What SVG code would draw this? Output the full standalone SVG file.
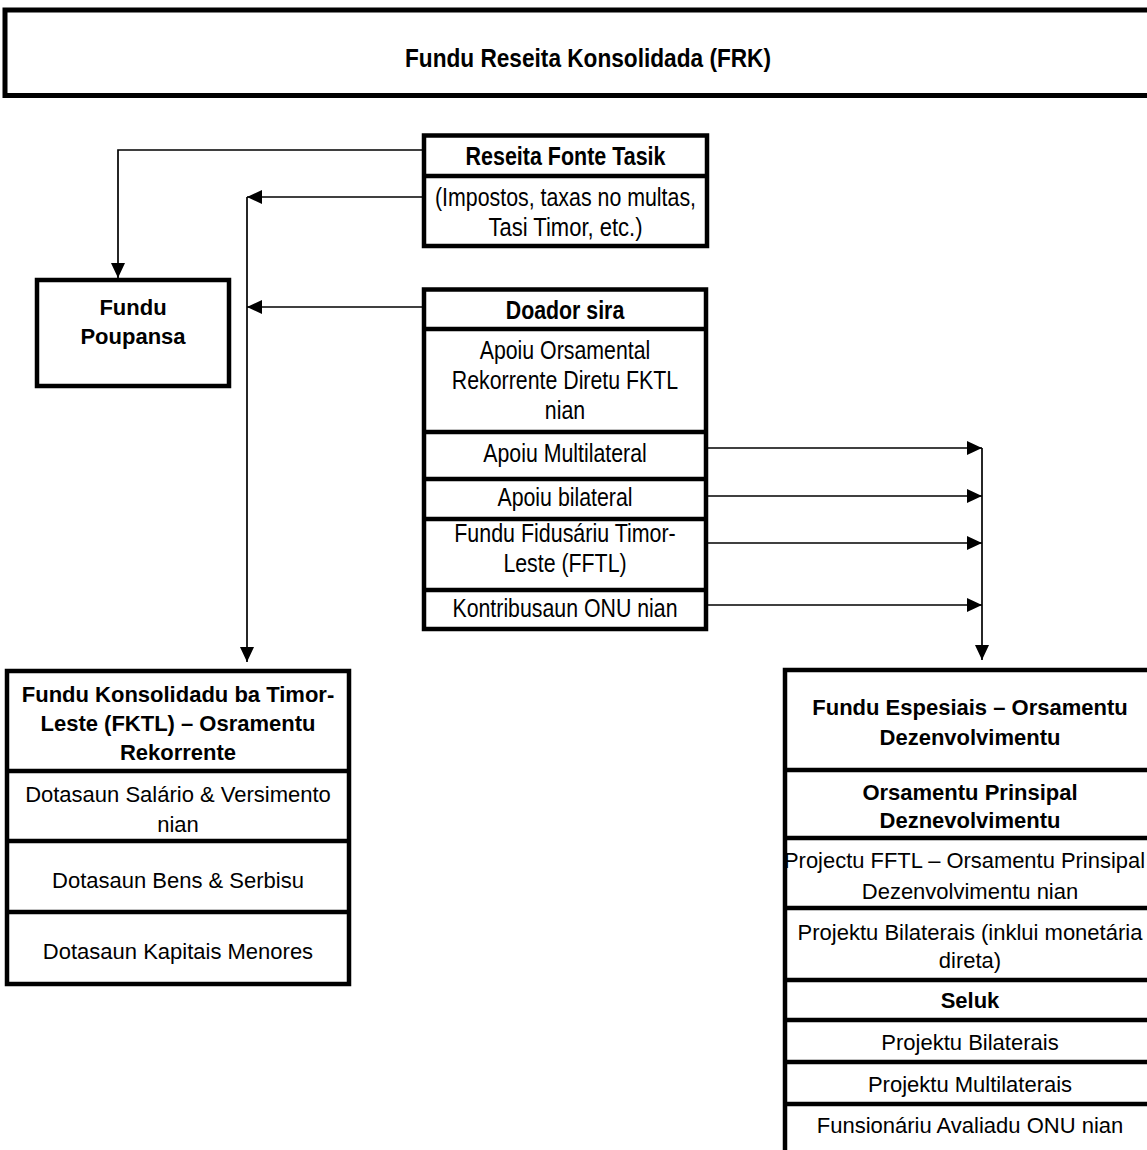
<svg xmlns="http://www.w3.org/2000/svg" width="1147" height="1150" viewBox="0 0 1147 1150">
<style>
.box{fill:#fff;stroke:#000;stroke-width:4.5}
.div{stroke:#000;stroke-width:4.5}
.n{font-family:"Liberation Sans Narrow","Liberation Sans",Arial,sans-serif;font-size:26px;fill:#000;text-anchor:middle}
.r{font-family:"Liberation Sans",Arial,sans-serif;font-size:22px;fill:#000;text-anchor:middle}
.b{font-weight:bold}
.c{fill:none;stroke:#000;stroke-width:1.7}
</style>
<defs>
<marker id="ah" viewBox="0 0 15 14" refX="15" refY="7" markerWidth="15" markerHeight="14" orient="auto" markerUnits="userSpaceOnUse">
<path d="M0,0 L15,7 L0,14 z" fill="#000"/>
</marker>
</defs>
<rect width="1147" height="1150" fill="#fff"/>

<g id="connectors">
<path class="c" d="M424,150 H118 V278" marker-end="url(#ah)"/>
<path class="c" d="M424,197 H247" marker-end="url(#ah)"/>
<path class="c" d="M424,307 H247" marker-end="url(#ah)"/>
<path class="c" d="M247,197 V662" marker-end="url(#ah)"/>
<path class="c" d="M706,448 H982" marker-end="url(#ah)"/>
<path class="c" d="M706,496 H982" marker-end="url(#ah)"/>
<path class="c" d="M706,543 H982" marker-end="url(#ah)"/>
<path class="c" d="M706,605 H982" marker-end="url(#ah)"/>
<path class="c" d="M982,448 V660" marker-end="url(#ah)"/>
</g>

<g id="frk">
<rect class="box" x="5" y="10" width="1170" height="85.5" style="stroke-width:5"/>
<text class="n b" x="588" y="67" font-size="27.5" textLength="366" lengthAdjust="spacingAndGlyphs">Fundu Reseita Konsolidada (FRK)</text>
</g>

<g id="reseita">
<rect class="box" x="424" y="135.5" width="283" height="110.5"/>
<line class="div" x1="424" y1="176" x2="707" y2="176"/>
<text class="n b" x="565.5" y="165" textLength="200" lengthAdjust="spacingAndGlyphs">Reseita Fonte Tasik</text>
<text class="n" x="565.5" y="206" textLength="261" lengthAdjust="spacingAndGlyphs">(Impostos, taxas no multas,</text>
<text class="n" x="565.5" y="236" textLength="154" lengthAdjust="spacingAndGlyphs">Tasi Timor, etc.)</text>
</g>

<g id="poupansa">
<rect class="box" x="37" y="280" width="192" height="106"/>
<text class="r b" x="133" y="315">Fundu</text>
<text class="r b" x="133" y="344">Poupansa</text>
</g>

<g id="doador">
<rect class="box" x="424" y="289.5" width="282" height="339.5"/>
<line class="div" x1="424" y1="329" x2="706" y2="329"/>
<line class="div" x1="424" y1="432" x2="706" y2="432"/>
<line class="div" x1="424" y1="479" x2="706" y2="479"/>
<line class="div" x1="424" y1="519" x2="706" y2="519"/>
<line class="div" x1="424" y1="590" x2="706" y2="590"/>
<text class="n b" x="565" y="319" textLength="118.5" lengthAdjust="spacingAndGlyphs">Doador sira</text>
<text class="n" x="565" y="359" textLength="170.6" lengthAdjust="spacingAndGlyphs">Apoiu Orsamental</text>
<text class="n" x="565" y="389" textLength="226.3" lengthAdjust="spacingAndGlyphs">Rekorrente Diretu FKTL</text>
<text class="n" x="565" y="419" textLength="40.3" lengthAdjust="spacingAndGlyphs">nian</text>
<text class="n" x="565" y="462" textLength="163.5" lengthAdjust="spacingAndGlyphs">Apoiu Multilateral</text>
<text class="n" x="565" y="506" textLength="135.1" lengthAdjust="spacingAndGlyphs">Apoiu bilateral</text>
<text class="n" x="565" y="542" textLength="221.5" lengthAdjust="spacingAndGlyphs">Fundu Fidusáriu Timor-</text>
<text class="n" x="565" y="572" textLength="123.2" lengthAdjust="spacingAndGlyphs">Leste (FFTL)</text>
<text class="n" x="565" y="617" textLength="225.1" lengthAdjust="spacingAndGlyphs">Kontribusaun ONU nian</text>
</g>

<g id="fktl">
<rect class="box" x="7" y="671" width="342" height="313"/>
<line class="div" x1="7" y1="771" x2="349" y2="771"/>
<line class="div" x1="7" y1="841" x2="349" y2="841"/>
<line class="div" x1="7" y1="912" x2="349" y2="912"/>
<text class="r b" x="178" y="702">Fundu Konsolidadu ba Timor-</text>
<text class="r b" x="178" y="731">Leste (FKTL) – Osramentu</text>
<text class="r b" x="178" y="760">Rekorrente</text>
<text class="r" x="178" y="802">Dotasaun Salário &amp; Versimento</text>
<text class="r" x="178" y="832">nian</text>
<text class="r" x="178" y="888">Dotasaun Bens &amp; Serbisu</text>
<text class="r" x="178" y="959">Dotasaun Kapitais Menores</text>
</g>

<g id="espesiais">
<rect class="box" x="785" y="670" width="370" height="520"/>
<line class="div" x1="785" y1="770" x2="1155" y2="770"/>
<line class="div" x1="785" y1="838" x2="1155" y2="838"/>
<line class="div" x1="785" y1="908" x2="1155" y2="908"/>
<line class="div" x1="785" y1="980" x2="1155" y2="980"/>
<line class="div" x1="785" y1="1020" x2="1155" y2="1020"/>
<line class="div" x1="785" y1="1062" x2="1155" y2="1062"/>
<line class="div" x1="785" y1="1104" x2="1155" y2="1104"/>
<text class="r b" x="970" y="715">Fundu Espesiais – Orsamentu</text>
<text class="r b" x="970" y="745">Dezenvolvimentu</text>
<text class="r b" x="970" y="800">Orsamentu Prinsipal</text>
<text class="r b" x="970" y="828">Deznevolvimentu</text>
<text class="r" x="964.5" y="868" textLength="361" lengthAdjust="spacingAndGlyphs">Projectu FFTL – Orsamentu Prinsipal</text>
<text class="r" x="970" y="899">Dezenvolvimentu nian</text>
<text class="r" x="970" y="940">Projektu Bilaterais (inklui monetária</text>
<text class="r" x="970" y="968">direta)</text>
<text class="r b" x="970" y="1008">Seluk</text>
<text class="r" x="970" y="1050">Projektu Bilaterais</text>
<text class="r" x="970" y="1092">Projektu Multilaterais</text>
<text class="r" x="970" y="1133">Funsionáriu Avaliadu ONU nian</text>
</g>
</svg>
